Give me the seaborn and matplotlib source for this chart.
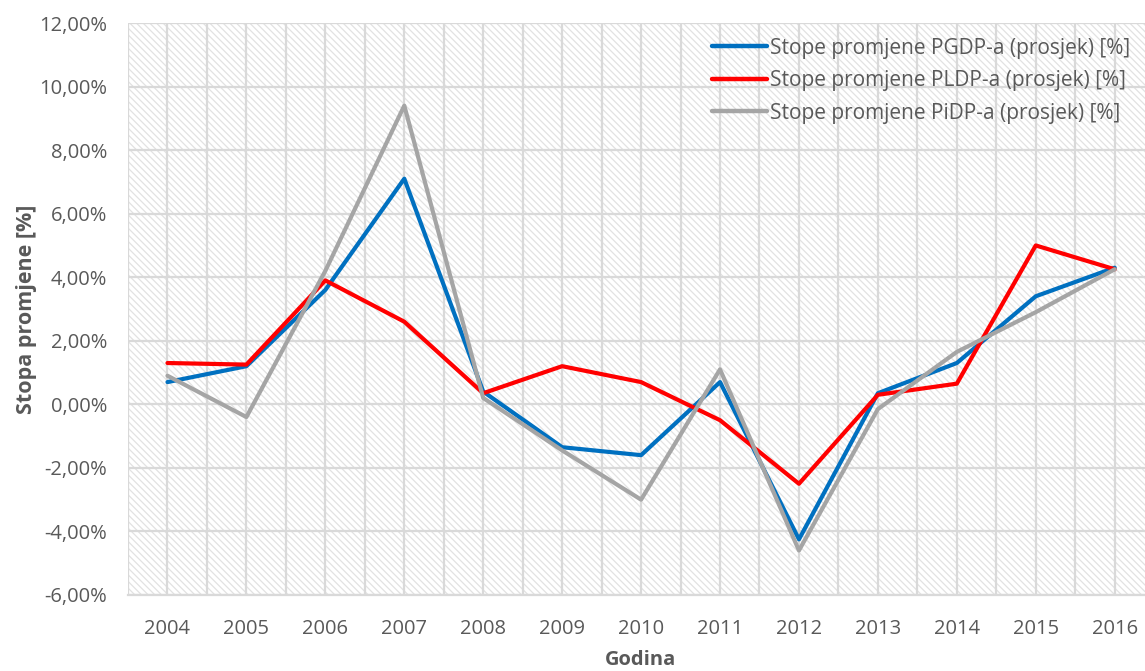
import matplotlib
matplotlib.use("Agg")
import matplotlib.pyplot as plt
import matplotlib.ticker as mticker
from matplotlib.patches import Rectangle
import seaborn as sns
import pandas as pd

years = [2004, 2005, 2006, 2007, 2008, 2009, 2010, 2011, 2012, 2013, 2014, 2015, 2016]
pgdp = [0.70, 1.20, 3.60, 7.10, 0.40, -1.35, -1.60, 0.70, -4.25, 0.35, 1.30, 3.40, 4.30]
pldp = [1.30, 1.25, 3.90, 2.60, 0.35, 1.20, 0.70, -0.50, -2.50, 0.30, 0.65, 5.00, 4.25]
pidp = [0.90, -0.40, 4.20, 9.40, 0.20, -1.45, -3.00, 1.10, -4.60, -0.15, 1.65, 2.90, 4.25]
series_names = ["Stope promjene PGDP-a (prosjek) [%]",
                "Stope promjene PLDP-a (prosjek) [%]",
                "Stope promjene PiDP-a (prosjek) [%]"]
colors = ["#0070C0", "#FF0000", "#A5A5A5"]

rows = []
for name, vals in zip(series_names, [pgdp, pldp, pidp]):
    for y, v in zip(years, vals):
        rows.append({"Godina": y, "Stopa": v, "Serija": name})
df = pd.DataFrame(rows)

sns.set_theme(style="white")
plt.rcParams['font.family'] = ['Open Sans', 'DejaVu Sans']
plt.rcParams['hatch.linewidth'] = 0.9

fig = plt.figure(figsize=(11.45, 6.71), dpi=100)
ax = fig.add_axes([0.1118, 0.1133, 0.8962, 0.8524])

grid_c = "#D9D9D9"
ax.add_patch(Rectangle((0, 0), 1, 1, transform=ax.transAxes, facecolor="none",
                       edgecolor="#E2E2E2", hatch="\\\\\\\\\\", linewidth=0, zorder=0))

sns.lineplot(data=df, x="Godina", y="Stopa", hue="Serija", palette=colors,
             linewidth=3.0, ax=ax, legend=True, zorder=3)

ax.set_xlim(2003.5, 2016.5)
ax.set_ylim(-6, 12)
ax.set_xticks(years)
ax.set_xticks([y + 0.5 for y in years[:-1]] + [2003.5], minor=True)
ax.set_yticks(range(-6, 13, 2))
ax.yaxis.set_major_formatter(mticker.FuncFormatter(lambda v, p: f"{v:.2f}%".replace(".", ",")))
ax.grid(True, which="major", color=grid_c, linewidth=1.6, zorder=1)
ax.grid(True, which="minor", axis="x", color=grid_c, linewidth=1.6, zorder=1)
ax.set_axisbelow(True)
for s in ["top", "right", "left"]:
    ax.spines[s].set_visible(False)
ax.spines["bottom"].set_color(grid_c)
ax.spines["bottom"].set_linewidth(1.6)
ax.tick_params(axis="both", which="both", length=0, labelsize=14.5, colors="#595959")
ax.tick_params(axis="x", pad=17)
ax.tick_params(axis="y", pad=15)

ax.set_xlabel("Godina", fontsize=14.5, fontweight="bold", color="#595959")
ax.set_ylabel("Stopa promjene [%]", fontsize=15.5, fontweight="bold", color="#595959")
ax.xaxis.set_label_coords((640 - 128) / (1154 - 128), -0.097)
ax.yaxis.set_label_coords((37 - 128) / (1154 - 128), 0.5)

leg = ax.legend(loc="upper right", bbox_to_anchor=(0.991, 1.0), frameon=False,
                fontsize=15, handlelength=2.65, handletextpad=0.15, labelspacing=0.55,
                borderaxespad=0.3)
for t in leg.get_texts():
    t.set_color("#595959")
for l in leg.get_lines():
    l.set_linewidth(3.2)

fig.savefig("out.png", dpi=100)
